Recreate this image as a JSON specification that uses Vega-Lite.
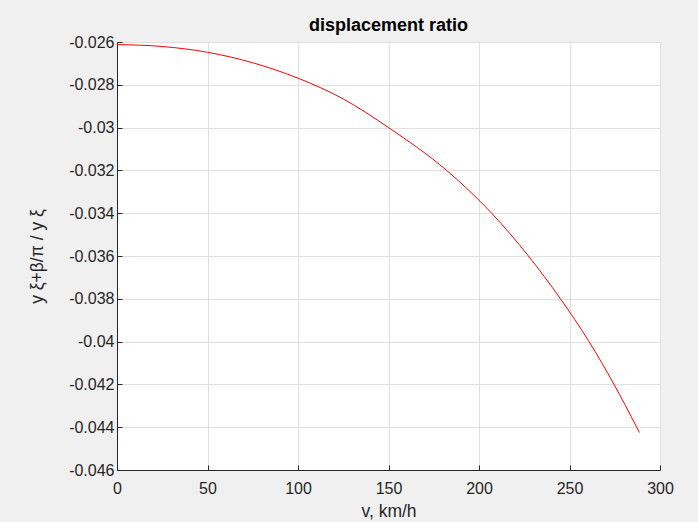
{
  "$schema": "https://vega.github.io/schema/vega-lite/v6.json",
  "autosize": {"type": "none"},
  "padding": {"left": 117, "top": 42, "right": 38, "bottom": 52},
  "width": 543,
  "height": 428,
  "background": "#f0f0f0",
  "title": {
    "text": "displacement ratio",
    "font": "Liberation Sans",
    "fontSize": 18,
    "fontWeight": "bold",
    "color": "#000000",
    "anchor": "middle",
    "frame": "group",
    "offset": -1
  },
  "data": {
    "values": [
      {"v": 0, "r": -0.02612},
      {"v": 25, "r": -0.02621},
      {"v": 50, "r": -0.02648},
      {"v": 75, "r": -0.02697},
      {"v": 100, "r": -0.02769},
      {"v": 125, "r": -0.02866},
      {"v": 150, "r": -0.03},
      {"v": 182.1, "r": -0.032},
      {"v": 207, "r": -0.034},
      {"v": 227.3, "r": -0.036},
      {"v": 245, "r": -0.038},
      {"v": 260.8, "r": -0.04},
      {"v": 274.6, "r": -0.042},
      {"v": 287.1, "r": -0.044},
      {"v": 288.6, "r": -0.04425}
    ]
  },
  "mark": {"type": "line", "color": "#ff0000", "strokeWidth": 1, "interpolate": "monotone", "clip": true},
  "encoding": {
    "x": {
      "field": "v",
      "type": "quantitative",
      "scale": {"domain": [0, 300], "nice": false, "zero": false},
      "axis": {
        "title": "v, km/h",
        "values": [0, 50, 100, 150, 200, 250, 300],
        "labelExpr": "format(datum.value, 'd')",
        "labelFlush": false,
        "labelOverlap": false,
        "tickSize": -5,
        "labelPadding": 15,
        "titlePadding": 6
      }
    },
    "y": {
      "field": "r",
      "type": "quantitative",
      "scale": {"domain": [-0.046, -0.026], "nice": false, "zero": false},
      "axis": {
        "title": "y ξ+β/π  / y ξ",
        "values": [-0.046, -0.044, -0.042, -0.04, -0.038, -0.036, -0.034, -0.032, -0.03, -0.028, -0.026],
        "labelExpr": "replace(format(datum.value, '~g'), '−', '-')",
        "labelFlush": false,
        "labelOverlap": false,
        "tickSize": -5,
        "labelPadding": 8,
        "titlePadding": 22
      }
    }
  },
  "config": {
    "view": {"fill": "#ffffff", "stroke": "#dfdfdf"},
    "axis": {
      "domainColor": "#262626",
      "domainWidth": 1,
      "tickColor": "#262626",
      "tickWidth": 1,
      "grid": true,
      "gridColor": "#dfdfdf",
      "gridWidth": 1,
      "labelFont": "Liberation Sans",
      "labelFontSize": 16,
      "labelColor": "#262626",
      "titleFont": "Liberation Sans",
      "titleFontSize": 17.5,
      "titleFontWeight": "normal",
      "titleColor": "#262626"
    }
  }
}
